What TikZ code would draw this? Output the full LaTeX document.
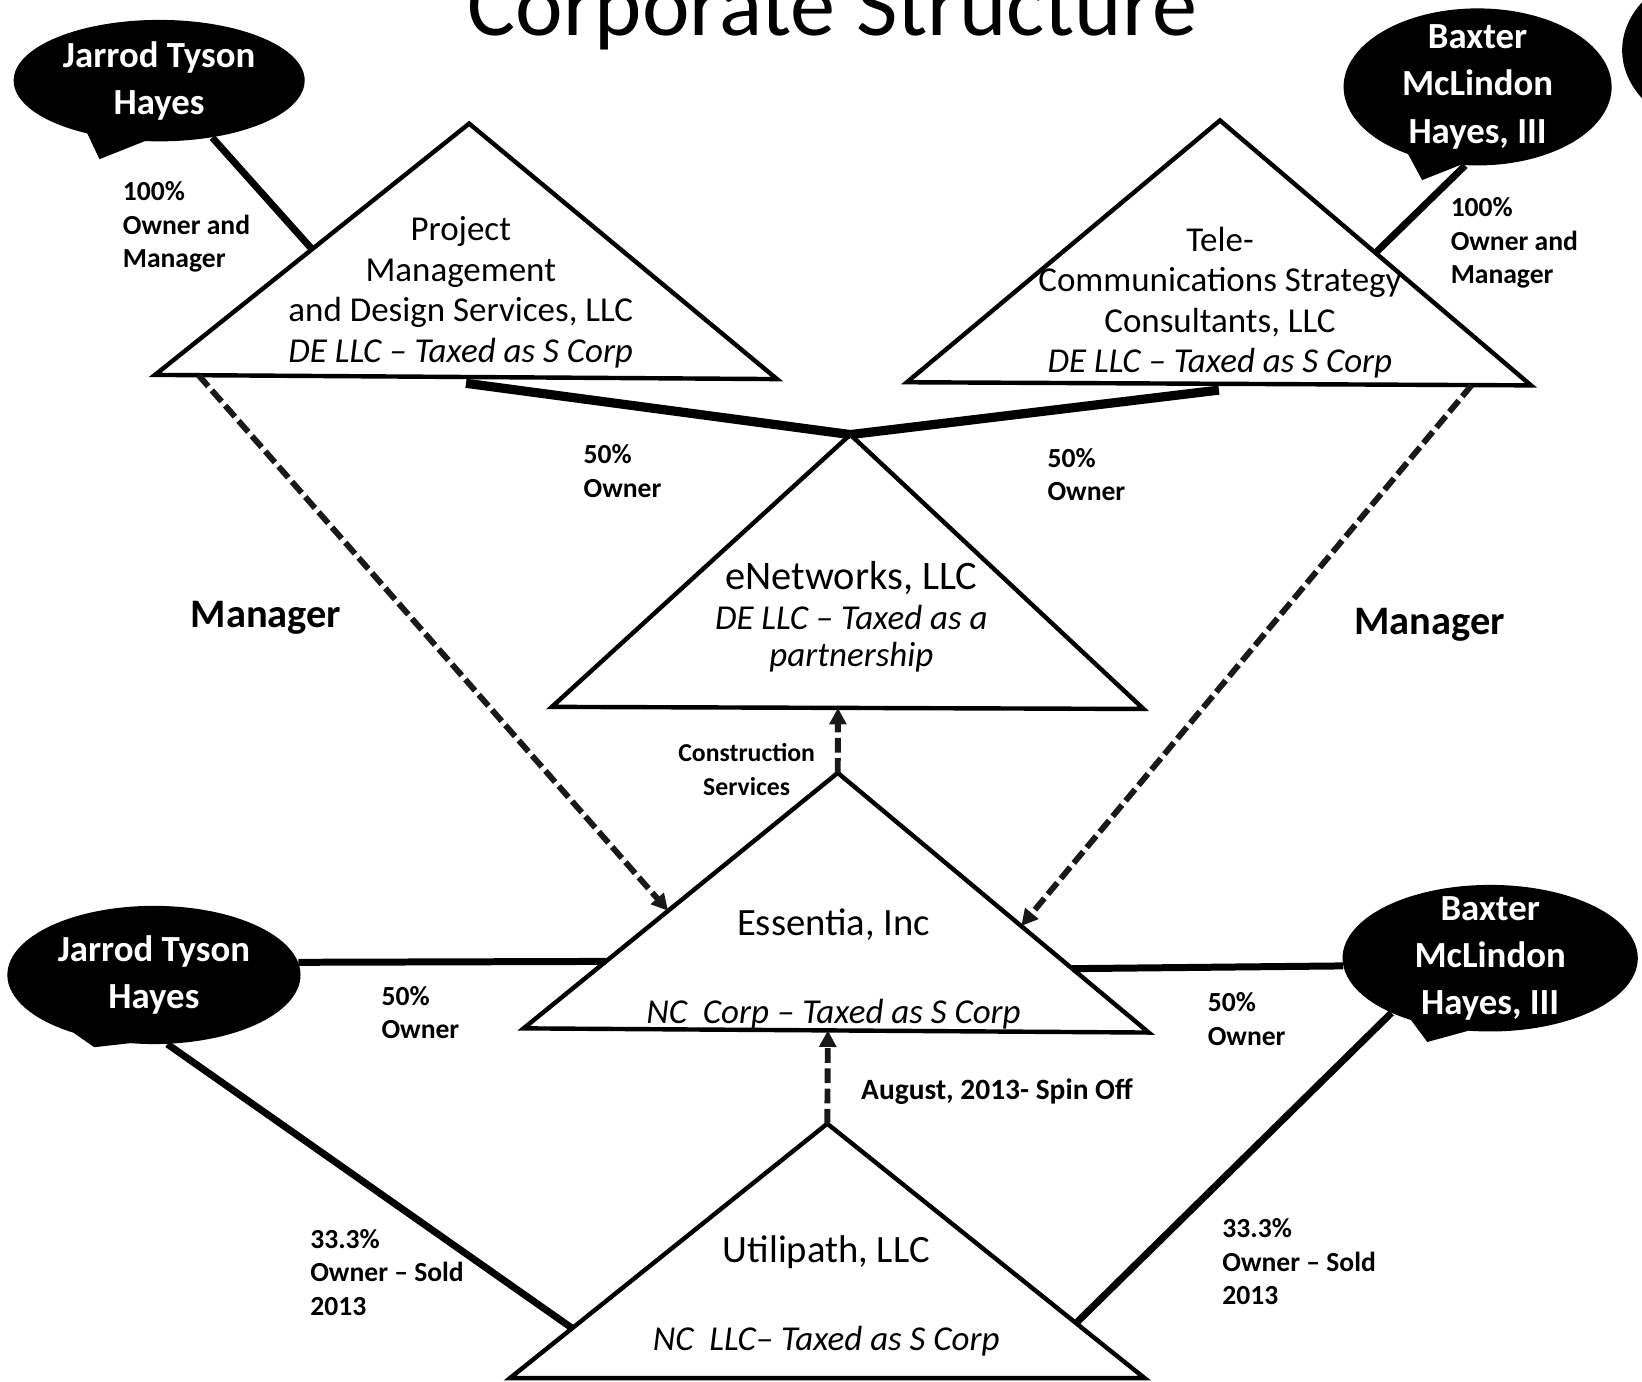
\documentclass[tikz,border=0pt]{standalone}
\usepackage{fontspec}
\setmainfont{Carlito}
\usetikzlibrary{shapes.callouts,arrows.meta,calc}

\tikzset{
  firm/.style={draw=black, line width=2.4pt, line join=miter},
  owner/.style={ellipse callout, fill=black, text=white, align=center,
    font=\bfseries\fontsize{20}{25.6}\selectfont,
    inner xsep=0pt, inner ysep=-12pt, callout pointer arc=24},
  firmname/.style={align=center, inner sep=0pt, font=\fontsize{21}{25}\selectfont},
  firmtext/.style={align=center, inner sep=0pt, font=\fontsize{19}{22}\selectfont},
  taxnote/.style={align=center, inner sep=0pt, font=\itshape\fontsize{19}{20.5}\selectfont},
  stake/.style={align=left, anchor=west, inner sep=0pt, font=\bfseries\fontsize{15}{18.2}\selectfont},
  role/.style={inner sep=0pt, font=\bfseries\fontsize{22}{26}\selectfont},
  flow/.style={draw=black!90, line width=3.2pt, dash pattern=on 8pt off 3pt,
    -{Triangle[length=9pt,width=9pt]}},
}

\begin{document}
\begin{tikzpicture}[x=0.02cm, y=-0.02cm]
  \clip (0,0) rectangle (1568,1319);

  \node[anchor=base, inner sep=0pt, font=\fontsize{49}{50}\selectfont] (title) at (795,34) {Corporate Structure};

  % corners of the companies
  \coordinate (pm-t) at (448,118);  \coordinate (pm-l) at (148,358);  \coordinate (pm-r) at (742,362);
  \coordinate (tc-t) at (1165,115); \coordinate (tc-l) at (866,365);  \coordinate (tc-r) at (1462,368);
  \coordinate (en-t) at (812,415);  \coordinate (en-l) at (527,675);  \coordinate (en-r) at (1092,677);
  \coordinate (es-t) at (800,738);  \coordinate (es-l) at (500,982);  \coordinate (es-r) at (1097,986);
  \coordinate (up-t) at (790,1073); \coordinate (up-l) at (487,1316); \coordinate (up-r) at (1093,1316);

  % where the lines meet them
  \coordinate (pm-own) at ($(pm-l)!0.5!(pm-t)$);
  \coordinate (tc-own) at ($(tc-r)!0.5!(tc-t)$);
  \coordinate (pm-b) at ($(pm-l)!0.5!(pm-r)+(0,6)$);
  \coordinate (tc-b) at ($(tc-l)!0.5!(tc-r)+(0,6)$);
  \coordinate (pm-mgr) at ($(pm-l)!0.07!(pm-r)$);
  \coordinate (tc-mgr) at ($(tc-l)!0.905!(tc-r)$);
  \coordinate (es-mgl) at ($(es-l)!0.46!(es-t)$);
  \coordinate (es-mgr) at ($(es-r)!0.41!(es-t)$);
  \coordinate (es-jt) at ($(es-l)!0.262!(es-t)$);
  \coordinate (es-bm) at ($(es-r)!0.246!(es-t)$);
  \coordinate (up-jt) at ($(up-l)!0.196!(up-t)$);
  \coordinate (up-bm) at ($(up-r)!0.216!(up-t)$);

  \draw[firm] (pm-t) -- (pm-l) -- (pm-r) -- cycle;
  \draw[firm] (tc-t) -- (tc-l) -- (tc-r) -- cycle;
  \draw[firm] (en-t) -- (en-l) -- (en-r) -- cycle;
  \draw[firm] (es-t) -- (es-l) -- (es-r) -- cycle;
  \draw[firm] (up-t) -- (up-l) -- (up-r) -- cycle;

  \node[firmtext] (pm-name) at (440,279) {Project\\Management\\and Design Services, LLC\\\textit{DE LLC -- Taxed as S Corp}};
  \node[firmtext] (tc-name) at (1165,289) {Tele-\\Communications Strategy\\Consultants, LLC\\\textit{DE LLC -- Taxed as S Corp}};
  \node[firmname, font=\fontsize{22}{25}\selectfont] (en-name) at (813,552) {eNetworks, LLC};
  \node[taxnote] (en-tax) at (813,610) {DE LLC -- Taxed as a\\partnership};
  \node[firmname] (es-name) at (796,883) {Essentia, Inc};
  \node[taxnote] (es-tax) at (796,968) {NC~~Corp -- Taxed as S Corp};
  \node[firmname] (up-name) at (789,1196) {Utilipath, LLC};
  \node[taxnote] (up-tax) at (789,1281) {NC~~LLC-- Taxed as S Corp};

  % owners
  \begin{scope}[every node/.style=owner]
    \node[minimum width=5.56cm, minimum height=2.32cm, callout absolute pointer={(95,152)}] (jt-top) at (152,77) {Jarrod Tyson\\Hayes};
    \node[minimum width=5.12cm, minimum height=3cm, callout absolute pointer={(1358,172)}] (bm-top) at (1411,83) {Baxter\\McLindon\\Hayes, III};
    \node[minimum width=5.6cm, minimum height=2.64cm, callout absolute pointer={(90,1000)}] (jt-low) at (147,931) {Jarrod Tyson\\Hayes};
    \node[minimum width=5.64cm, minimum height=2.8cm, callout absolute pointer={(1363,995)}] (bm-low) at (1423,915) {Baxter\\McLindon\\Hayes, III};
  \end{scope}
  \fill (1669,48) ellipse [x radius=2.4cm, y radius=1.7cm];

  \begin{scope}[every edge/.style={draw=black, line width=3.8pt}]
    \path (jt-top.313) edge (pm-own);
    \path (bm-top.261) edge (tc-own);
    \path (pm-b) edge[line width=5pt] (en-t);
    \path (tc-b) edge[line width=5pt] (en-t);
    \path (jt-low.5) edge (es-jt);
    \path (es-bm) edge (bm-low.183);
    \path (jt-low.281) edge (up-jt);
    \path (bm-low.209) edge (up-bm);
  \end{scope}

  \draw[flow] (pm-mgr) -- (es-mgl);
  \draw[flow] (tc-mgr) -- (es-mgr);
  \draw[flow] (es-t) -- ($(en-l)!(es-t)!(en-r)$);
  \draw[flow] (up-t) -- ($(es-l)!(up-t)!(es-r)$);

  % labels
  \node[stake] (own-pm) at (117,217) {100\%\\Owner and\\Manager};
  \node[stake] (own-tc) at (1385,232) {100\%\\Owner and\\Manager};
  \node[stake] (half-pm) at (557,450) {50\%\\Owner};
  \node[stake] (half-tc) at (1000,453) {50\%\\Owner};
  \node[role] (mgr-l) at (254,590) {Manager};
  \node[role] (mgr-r) at (1365,597) {Manager};
  \node[stake, anchor=center, align=center, font=\bfseries\fontsize{14}{18.2}\selectfont] (build) at (713,735) {Construction\\Services};
  \node[stake] (half-jt) at (364,967) {50\%\\Owner};
  \node[stake] (half-bm) at (1153,973) {50\%\\Owner};
  \node[stake] (sold-jt) at (296,1215) {33.3\%\\Owner -- Sold\\2013};
  \node[stake] (sold-bm) at (1167,1205) {33.3\%\\Owner -- Sold\\2013};
  \node[stake, font=\bfseries\fontsize{16}{19}\selectfont] (spin) at (822,1042) {August, 2013- Spin Off};
\end{tikzpicture}
\end{document}
